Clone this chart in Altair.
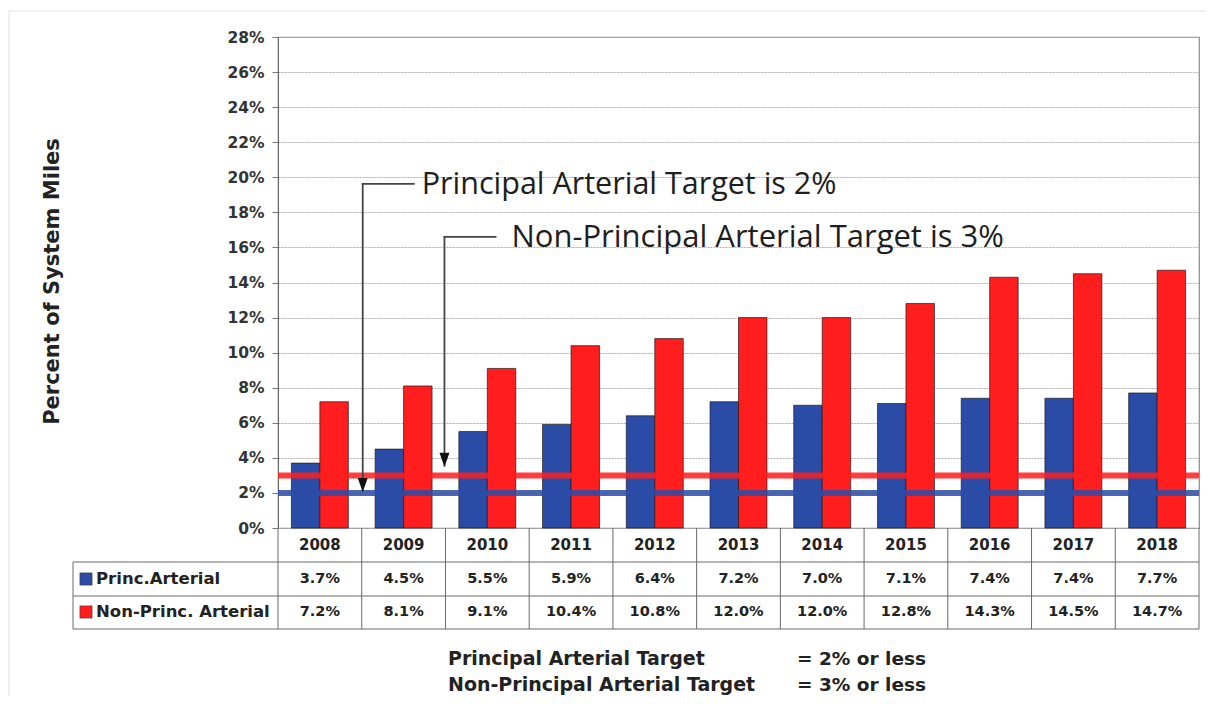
import altair as alt
import pandas as pd

# ---------------- data ----------------
years = ["2008", "2009", "2010", "2011", "2012", "2013", "2014", "2015", "2016", "2017", "2018"]
princ_values = [3.7, 4.5, 5.5, 5.9, 6.4, 7.2, 7.0, 7.1, 7.4, 7.4, 7.7]
nonprinc_values = [7.2, 8.1, 9.1, 10.4, 10.8, 12.0, 12.0, 12.8, 14.3, 14.5, 14.7]
series_names = ["Princ.Arterial", "Non-Princ. Arterial"]
series_colors = ["#2B4CA6", "#FF1D1D"]
target_values = [2, 3]
y_ticks = [0, 2, 4, 6, 8, 10, 12, 14, 16, 18, 20, 22, 24, 26, 28]
callout_texts = ["Principal Arterial Target is 2%", "Non-Principal Arterial Target is 3%"]
callout_levels = [19.62, 16.6]      # level (%) of the callout leader line
callout_tips = [2.05, 3.5]          # where each arrow points (%)
footer_left = ["Principal Arterial Target", "Non-Principal Arterial Target"]
footer_right = ["= 2% or less", "= 3% or less"]
y_title = "Percent of System Miles"

rows = []
for s, vals in zip(series_names, [princ_values, nonprinc_values]):
    for y, v in zip(years, vals):
        rows.append({"year": y, "series": s, "value": v, "label": f"{v:.1f}%"})
df = pd.DataFrame(rows)
df_years = pd.DataFrame({"year": years})
df_targets = pd.DataFrame({"series": series_names, "value": target_values})

# ---------------- geometry ----------------
W, H = 921, 491
STEP = W / len(years)
FONT = "DejaVu Sans"

x_band = alt.X("year:N", sort=years,
               scale=alt.Scale(domain=years, paddingInner=0, paddingOuter=0),
               axis=None)
color_enc = alt.Color("series:N",
                      scale=alt.Scale(domain=series_names, range=series_colors),
                      legend=None)

y_axis = alt.Axis(
    values=y_ticks, labelExpr="datum.value + '%'", labelOverlap=False, labelBound=False,
    labelFont=FONT, labelFontWeight="bold", labelFontSize=15.5, labelColor="#333",
    labelPadding=8, tickSize=6, tickColor="#777", domainColor="#666",
    grid=True, gridColor="#b0b0b0", gridDash=[2, 1], gridWidth=1,
    title=y_title, titleFont=FONT, titleFontWeight="bold", titleFontSize=21,
    titleColor="#222", titleX=-226, titleY=244, titleAngle=-90,
    titleAlign="center", titleBaseline="middle",
)
y_scale = alt.Scale(domain=[0, 28], nice=False, zero=True)


def yq(field):
    return alt.Y(field, scale=y_scale, axis=y_axis)


bars = alt.Chart(df).mark_bar(stroke="#1a1a1a", strokeWidth=0.9, strokeOpacity=0.75).encode(
    x=x_band,
    xOffset=alt.XOffset("series:N", sort=series_names,
                        scale=alt.Scale(domain=series_names, paddingInner=0, paddingOuter=0.47)),
    y=yq("value:Q"),
    color=color_enc,
)

target_lines = alt.Chart(df_targets).mark_rule(strokeWidth=6, opacity=0.85).encode(
    y=yq("value:Q"),
    color=color_enc,
)

# ---------------- table ----------------
grid_c = "#6a6a6a"
table_vlines = alt.Chart(df_years).mark_rule(color=grid_c, strokeWidth=1).encode(
    x=alt.X("year:N", sort=years, bandPosition=0, axis=None),
    y=alt.value(H), y2=alt.value(592),
)
table_right = alt.Chart(df_years.head(1)).mark_rule(color=grid_c, strokeWidth=1).encode(
    x=alt.value(W), y=alt.value(H), y2=alt.value(592))
table_left = alt.Chart(df_years.head(1)).mark_rule(color=grid_c, strokeWidth=1).encode(
    x=alt.value(-205), y=alt.value(525), y2=alt.value(592))
hlines = [
    alt.Chart(df_years.head(1)).mark_rule(color=grid_c, strokeWidth=1).encode(
        x=alt.value(-205), x2=alt.value(W), y=alt.value(yy))
    for yy in (525, 559, 592)
]

year_text = alt.Chart(df_years).mark_text(
    font=FONT, fontWeight="bold", fontSize=15, color="#222", baseline="middle").encode(
    x=x_band, y=alt.value(508), text="year:N")

row_y = {series_names[0]: 542, series_names[1]: 575}
row_layers = []
for s in series_names:
    sub = alt.Chart(df).transform_filter(alt.datum.series == s)
    row_layers.append(sub.mark_text(font=FONT, fontWeight="bold", fontSize=14.5,
                                    color="#222", baseline="middle").encode(
        x=x_band, y=alt.value(row_y[s]), text="label:N"))
    lab = alt.Chart(pd.DataFrame({"series": [s]}))
    row_layers.append(lab.mark_square(size=150, opacity=1, stroke="#333", strokeWidth=0.5).encode(
        x=alt.value(-192), y=alt.value(row_y[s]), color=color_enc))
    row_layers.append(lab.mark_text(font=FONT, fontWeight="bold", fontSize=16.5, color="#222",
                                    align="left", baseline="middle").encode(
        x=alt.value(-182), y=alt.value(row_y[s]), text="series:N"))

# ---------------- callouts ----------------
ann = []
callout_x = [STEP * 1 + 1, STEP * 2 - 1]
callout_len = [52, 52]
text_gap = [7, 15]
for i in range(2):
    d = pd.DataFrame({"lvl": [callout_levels[i]], "tip": [callout_tips[i]], "t": [callout_texts[i]]})
    c = alt.Chart(d)
    ann.append(c.mark_rule(color="#444", strokeWidth=1.8).encode(
        x=alt.value(callout_x[i]), y=yq("lvl:Q"), y2=alt.Y2("tip:Q")))
    ann.append(c.mark_rule(color="#444", strokeWidth=1.8).encode(
        x=alt.value(callout_x[i] - 1), x2=alt.value(callout_x[i] + callout_len[i]),
        y=yq("lvl:Q")))
    ann.append(c.mark_point(shape="M-1,-2.8L1,-2.8L0,0Z", size=100, filled=True,
                            color="#111", opacity=1).encode(
        x=alt.value(callout_x[i]), y=yq("tip:Q")))
    ann.append(c.mark_text(font="Open Sans", fontSize=30.5 + 0.5 * i, color="#1e1e1e", align="left",
                           baseline="middle", dy=1).encode(
        x=alt.value(callout_x[i] + callout_len[i] + text_gap[i]),
        y=yq("lvl:Q"), text="t:N"))

# ---------------- footer ----------------
foot = alt.Chart(pd.DataFrame({"a": [0]}))
footer = [
    foot.mark_text(text=footer_left, font=FONT, fontWeight="bold", fontSize=19, color="#222",
                   align="left", baseline="alphabetic", lineHeight=26).encode(
        x=alt.value(170), y=alt.value(628)),
    foot.mark_text(text=footer_right, font=FONT, fontWeight="bold", fontSize=18.5, color="#222",
                   align="left", baseline="alphabetic", lineHeight=26).encode(
        x=alt.value(519), y=alt.value(628)),
]

# faint outer frame of the original picture
frame = [
    foot.mark_rule(color="#e2e2e2", strokeWidth=1).encode(
        x=alt.value(-269), x2=alt.value(W + 7), y=alt.value(-26)),
    foot.mark_rule(color="#e2e2e2", strokeWidth=1).encode(
        x=alt.value(-269), y=alt.value(-26), y2=alt.value(H + 168)),
]

chart = alt.layer(
    bars, *frame, target_lines, table_vlines, table_right, table_left, *hlines,
    year_text, *row_layers, *ann, *footer,
).properties(
    width=W, height=H,
    padding={"left": 270, "top": 29, "right": 7, "bottom": 168},
    autosize=alt.AutoSizeParams(type="none"),
    background="white",
).configure_view(stroke="#8a8a8a", strokeWidth=1.2)

chart.save("out.html", embed_options={"renderer": "svg", "actions": False})
